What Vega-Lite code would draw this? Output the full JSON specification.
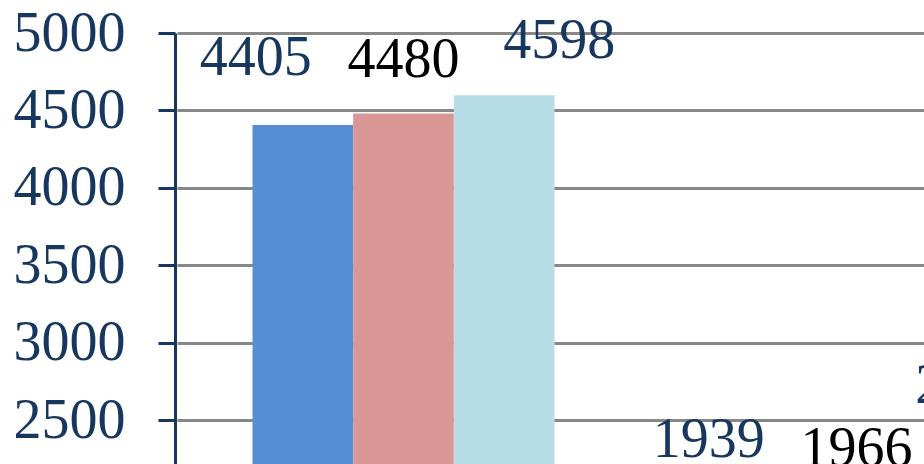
{
  "$schema": "https://vega.github.io/schema/vega-lite/v6.json",
  "autosize": {"type": "none"},
  "padding": {"left": 175, "top": 33, "right": 0, "bottom": 0},
  "width": 749,
  "height": 431,
  "background": "white",
  "config": {"view": {"stroke": null}},
  "data": {
    "values": [
      {"category": "Group 1", "series": "Series 1", "value": 4405},
      {"category": "Group 1", "series": "Series 2", "value": 4480},
      {"category": "Group 1", "series": "Series 3", "value": 4598},
      {"category": "Group 2", "series": "Series 1", "value": 1939},
      {"category": "Group 2", "series": "Series 2", "value": 1966},
      {"category": "Group 2", "series": "Series 3", "value": 2081}
    ]
  },
  "encoding": {
    "x": {
      "field": "category",
      "type": "nominal",
      "scale": {"range": [2, 908], "paddingInner": 0.3333, "paddingOuter": 0.1667},
      "axis": null
    },
    "xOffset": {"field": "series", "type": "nominal", "scale": {"paddingInner": 0, "paddingOuter": 0}},
    "y": {
      "field": "value",
      "type": "quantitative",
      "scale": {"domain": [2216, 5000], "zero": false, "nice": false},
      "axis": {
        "title": null,
        "values": [2500, 3000, 3500, 4000, 4500, 5000],
        "format": "d",
        "labelFont": "Liberation Serif",
        "labelFontSize": 56,
        "labelColor": "#17375E",
        "labelPadding": 33,
        "tickSize": 17,
        "tickWidth": 3,
        "tickColor": "#17375E",
        "domainColor": "#17375E",
        "domainWidth": 3,
        "grid": true,
        "gridColor": "#888888",
        "gridWidth": 3
      }
    }
  },
  "layer": [
    {
      "mark": {"type": "bar"},
      "encoding": {
        "color": {
          "field": "series",
          "type": "nominal",
          "scale": {"domain": ["Series 1", "Series 2", "Series 3"], "range": ["#558ED5", "#D99694", "#B7DEE8"]},
          "legend": null
        }
      }
    },
    {
      "transform": [{"filter": "datum.series === 'Series 1'"}],
      "mark": {"type": "text", "font": "Liberation Serif", "fontSize": 56, "baseline": "alphabetic", "align": "center", "dx": -47, "dy": -50, "color": "#17375E"},
      "encoding": {"text": {"field": "value", "type": "quantitative"}}
    },
    {
      "transform": [{"filter": "datum.series === 'Series 2'"}],
      "mark": {"type": "text", "font": "Liberation Serif", "fontSize": 56, "baseline": "alphabetic", "align": "center", "dx": 0, "dy": -37, "color": "#000000"},
      "encoding": {"text": {"field": "value", "type": "quantitative"}}
    },
    {
      "transform": [{"filter": "datum.series === 'Series 3' && datum.category === 'Group 1'"}],
      "mark": {"type": "text", "font": "Liberation Serif", "fontSize": 56, "baseline": "alphabetic", "align": "center", "dx": 55, "dy": -37, "color": "#17375E"},
      "encoding": {"text": {"field": "value", "type": "quantitative"}}
    },
    {
      "transform": [{"filter": "datum.series === 'Series 3' && datum.category === 'Group 2'"}],
      "mark": {"type": "text", "font": "Liberation Serif", "fontSize": 56, "baseline": "alphabetic", "align": "center", "dx": 14, "dy": -82, "color": "#17375E"},
      "encoding": {"text": {"field": "value", "type": "quantitative"}}
    }
  ]
}
